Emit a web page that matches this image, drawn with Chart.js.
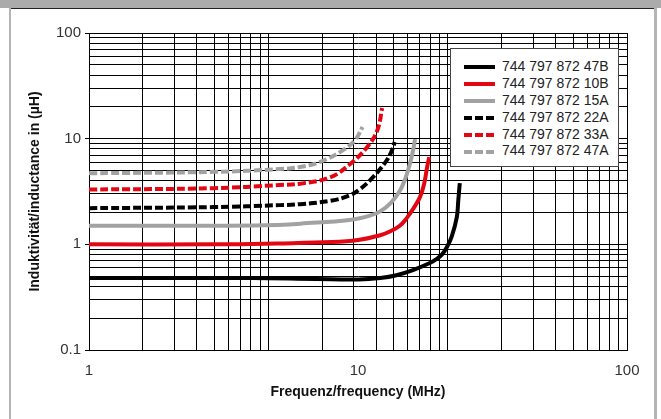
<!DOCTYPE html>
<html>
<head>
<meta charset="utf-8">
<script src="https://cdn.jsdelivr.net/npm/chart.js@4.4.1/dist/chart.umd.min.js"></script>
<style>
  html, body { margin: 0; padding: 0; background: #fff; }
  #wrap { position: relative; width: 661px; height: 419px; overflow: hidden; background: #fff; }
  #chart { position: absolute; left: 0; top: 0; }
  .frame { position: absolute; }
  #legend {
    position: absolute; left: 450px; top: 48px; width: 169px; height: 119px;
    background: #fff; border: 1px solid #444; box-sizing: border-box;
    font-family: 'Liberation Sans Narrow', 'Arial Narrow', 'Liberation Sans', Arial, sans-serif;
    font-size: 14px; color: #222; padding-top: 9px;
  }
  #legend .row { height: 16.9px; line-height: 16.9px; white-space: nowrap; }
  #legend svg { vertical-align: middle; margin-left: 13px; margin-right: 7px; }
</style>
</head>
<body>
<div id="wrap">
  <canvas id="chart" width="661" height="419"></canvas>
  <div class="frame" style="left:0;top:0;width:661px;height:8px;background:#ababab"></div>
  <div class="frame" style="left:9px;top:8px;width:648px;height:1px;background:#222"></div>
  <div class="frame" style="left:9px;top:8px;width:2px;height:411px;background:#b4b4b4"></div>
  <div class="frame" style="left:654px;top:8px;width:3px;height:411px;background:#b4b4b4"></div>
  <div id="legend"></div>
</div>
<script>
// Achsenbeschriftungen
const xTickLabels = [1, 10, 100];
const yTickLabels = [0.1, 1, 10, 100];

// Induktivität über Frequenz, je Typ
const freq47B = [1, 2, 4, 7, 10, 12.1, 13.9, 16, 18.5, 19.5, 20.5, 21.4, 22.3, 23.3, 23.6, 23.9];
const ind47B  = [0.48, 0.48, 0.48, 0.47, 0.465, 0.48, 0.51, 0.57, 0.665, 0.72, 0.8, 0.94, 1.18, 1.81, 2.63, 3.8];

const freq10B = [1, 3, 5, 8, 10, 12.1, 13.2, 14.3, 15.2, 16, 17, 17.6, 18.1, 18.4];
const ind10B  = [1.0, 1.0, 1.02, 1.05, 1.1, 1.22, 1.33, 1.5, 1.78, 2.15, 2.8, 3.7, 5.5, 6.7];

const freq15A = [1, 3, 5, 6.1, 9.3, 11, 12.1, 13.3, 14.3, 15, 15.6, 16, 16.3];
const ind15A  = [1.5, 1.5, 1.52, 1.57, 1.7, 1.86, 2.05, 2.5, 3.2, 4.2, 5.8, 7.6, 9.9];

const freq22A = [1, 2.9, 5.1, 6.1, 8, 9.3, 10.2, 11.1, 12.6, 13.3, 13.7];
const ind22A  = [2.2, 2.25, 2.35, 2.4, 2.6, 2.9, 3.35, 4.06, 5.9, 7.5, 9.3];

const freq33A = [1, 2.9, 5.1, 6.1, 7.87, 9.3, 10.8, 11.8, 12.3];
const ind33A  = [3.3, 3.4, 3.64, 3.75, 4.3, 5.7, 8.3, 12.0, 19.5];

const freq47A = [1, 2.9, 5.1, 6.1, 7.2, 8.6, 9.75, 10.4];
const ind47A  = [4.7, 4.85, 5.15, 5.4, 6.0, 7.5, 9.7, 12.9];

const RED = '#e30613';
const GRAY = '#a2a2a2';
const BLACK = '#000000';
const FONT = "'Liberation Sans Narrow', 'Arial Narrow', 'Liberation Sans', Arial, sans-serif";

function points(freq, ind) {
  return freq.map((f, i) => ({ x: f, y: ind[i] }));
}

function series(label, freq, ind, color, dashed) {
  return {
    label: label,
    data: points(freq, ind),
    borderColor: color,
    backgroundColor: color,
    borderWidth: 4,
    borderDash: dashed ? [8, 3] : [],
    pointRadius: 0,
    fill: false,
    tension: 0.4
  };
}

// Gitterlinien 1..9 je Dekade
function logGrid(minExp, maxExp) {
  const out = [];
  for (let e = minExp; e < maxExp; e++) {
    for (let d = 1; d <= 9; d++) out.push({ value: Number((d * Math.pow(10, e)).toPrecision(3)) });
  }
  out.push({ value: Math.pow(10, maxExp) });
  return out;
}

function isMajor(v, list) {
  return list.some(t => Math.abs(Math.log10(t) - Math.log10(v)) < 1e-6);
}

const datasets = [
  series('744 797 872 47B', freq47B, ind47B, BLACK, false),
  series('744 797 872 10B', freq10B, ind10B, RED, false),
  series('744 797 872 15A', freq15A, ind15A, GRAY, false),
  series('744 797 872 22A', freq22A, ind22A, BLACK, true),
  series('744 797 872 33A', freq33A, ind33A, RED, true),
  series('744 797 872 47A', freq47A, ind47A, GRAY, true)
];

const chart = new Chart(document.getElementById('chart').getContext('2d'), {
  type: 'line',
  data: { datasets: datasets },
  options: {
    responsive: false,
    animation: false,
    layout: { padding: { left: 0, top: 33, right: 34, bottom: 0 } },
    plugins: { legend: { display: false }, tooltip: { enabled: false } },
    scales: {
      x: {
        type: 'logarithmic',
        position: 'bottom',
        min: 1,
        max: 100,
        afterBuildTicks: s => { s.ticks = xTickLabels.map(v => ({ value: v })); },
        afterFit: s => { s.height = 69; },
        grid: { display: false, drawTicks: false },
        border: { display: true, color: '#000', width: 1 },
        ticks: {
          padding: 12, color: '#333', autoSkip: false, maxRotation: 0,
          font: { family: FONT, size: 15 },
          callback: v => String(v)
        },
        title: {
          display: true, text: 'Frequenz/frequency (MHz)', color: '#111',
          font: { family: FONT, size: 14, weight: 'bold' },
          padding: { top: 0, bottom: 18 }
        }
      },
      xg: {
        type: 'logarithmic',
        position: 'top',
        min: 1,
        max: 1000,
        afterBuildTicks: s => { s.ticks = logGrid(0, 3); },
        afterFit: s => { s.height = 0; },
        grid: { color: '#000', lineWidth: 1, drawTicks: false },
        border: { display: false },
        ticks: { display: false }
      },
      y: {
        type: 'logarithmic',
        position: 'left',
        min: 0.1,
        max: 100,
        afterBuildTicks: s => { s.ticks = logGrid(-1, 2); },
        afterFit: s => { s.width = 89; },
        grid: {
          color: '#000', lineWidth: 1, tickLength: 4,
          tickColor: ctx => (ctx.tick && isMajor(ctx.tick.value, yTickLabels)) ? '#000' : 'rgba(0,0,0,0)'
        },
        border: { display: true, color: '#000', width: 1 },
        ticks: {
          padding: 4, color: '#333', autoSkip: false,
          font: { family: FONT, size: 15 },
          callback: v => isMajor(v, yTickLabels) ? String(yTickLabels.find(t => isMajor(t, [v]))) : ''
        },
        title: {
          display: true, text: 'Induktivität/inductance in (µH)', color: '#111',
          font: { family: FONT, size: 14, weight: 'bold' },
          padding: { top: 27, bottom: 0 }
        }
      }
    }
  }
});

// Legende im Diagramm, aus den Datensätzen erzeugt
const legend = document.getElementById('legend');
chart.data.datasets.forEach(ds => {
  const row = document.createElement('div');
  row.className = 'row';
  const dash = ds.borderDash.length ? ` stroke-dasharray="${ds.borderDash.join(' ')}"` : '';
  row.innerHTML = `<svg width="31" height="6"><line x1="0" y1="3" x2="31" y2="3" stroke="${ds.borderColor}" stroke-width="4"${dash}/></svg>${ds.label}`;
  legend.appendChild(row);
});
</script>
</body>
</html>
